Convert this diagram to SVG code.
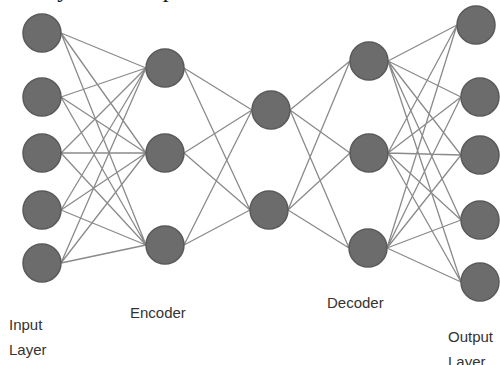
<svg xmlns="http://www.w3.org/2000/svg" width="500" height="365" viewBox="0 0 500 365">
<style>
.node{fill:#6c6c6c;stroke:#595959;stroke-width:1.5}
.edge{stroke:#8a8a8a;stroke-width:1.3;fill:none}
.lbl{font-family:"Liberation Sans",Arial,sans-serif;font-size:15px;fill:#333}
.cap{font-family:"Liberation Serif","Times New Roman",serif;font-size:24px;fill:#111}
</style>
<rect width="500" height="365" fill="#fff"/>
<text class="cap" x="10" y="-3">on layer has output.</text>
<g id="connectors">
<path class="edge" d="M61,33L146,68M61,33L146,153M61,33L146,245M61,97L146,68M61,97L146,153M61,97L146,245M61,153L146,68M61,153L146,153M61,153L146,245M61,210L146,68M61,210L146,153M61,210L146,245M61,263L146,68M61,263L146,153M61,263L146,245"/>
<path class="edge" d="M184,68L252,110M184,68L250,210M184,153L252,110M184,153L250,210M184,245L252,110M184,245L250,210"/>
<path class="edge" d="M290,110L350,61M290,110L350,153M290,110L349,248M288,210L350,61M288,210L350,153M288,210L349,248"/>
<path class="edge" d="M388,61L457,25M388,61L461,97M388,61L461,155M388,61L461,220M388,61L461,282M388,153L457,25M388,153L461,97M388,153L461,155M388,153L461,220M388,153L461,282M387,248L457,25M387,248L461,97M387,248L461,155M387,248L461,220M387,248L461,282"/>
</g>
<g id="in1"><circle class="node" cx="42" cy="33" r="19"/></g>
<g id="in2"><circle class="node" cx="42" cy="97" r="19"/></g>
<g id="in3"><circle class="node" cx="42" cy="153" r="19"/></g>
<g id="in4"><circle class="node" cx="42" cy="210" r="19"/></g>
<g id="in5"><circle class="node" cx="42" cy="263" r="19"/></g>
<g id="enc1"><circle class="node" cx="165" cy="68" r="19"/></g>
<g id="enc2"><circle class="node" cx="165" cy="153" r="19"/></g>
<g id="enc3"><circle class="node" cx="165" cy="245" r="19"/></g>
<g id="bot1"><circle class="node" cx="271" cy="110" r="19"/></g>
<g id="bot2"><circle class="node" cx="269" cy="210" r="19"/></g>
<g id="dec1"><circle class="node" cx="369" cy="61" r="19"/></g>
<g id="dec2"><circle class="node" cx="369" cy="153" r="19"/></g>
<g id="dec3"><circle class="node" cx="368" cy="248" r="19"/></g>
<g id="out1"><circle class="node" cx="476" cy="25" r="19"/></g>
<g id="out2"><circle class="node" cx="480" cy="97" r="19"/></g>
<g id="out3"><circle class="node" cx="480" cy="155" r="19"/></g>
<g id="out4"><circle class="node" cx="480" cy="220" r="19"/></g>
<g id="out5"><circle class="node" cx="480" cy="282" r="19"/></g>
<g id="labels">
<text class="lbl" x="9" y="330">Input</text>
<text class="lbl" x="9" y="355">Layer</text>
<text class="lbl" x="130" y="318">Encoder</text>
<text class="lbl" x="327" y="308">Decoder</text>
<text class="lbl" x="448" y="342">Output</text>
<text class="lbl" x="448" y="367">Layer</text>
</g>
</svg>
